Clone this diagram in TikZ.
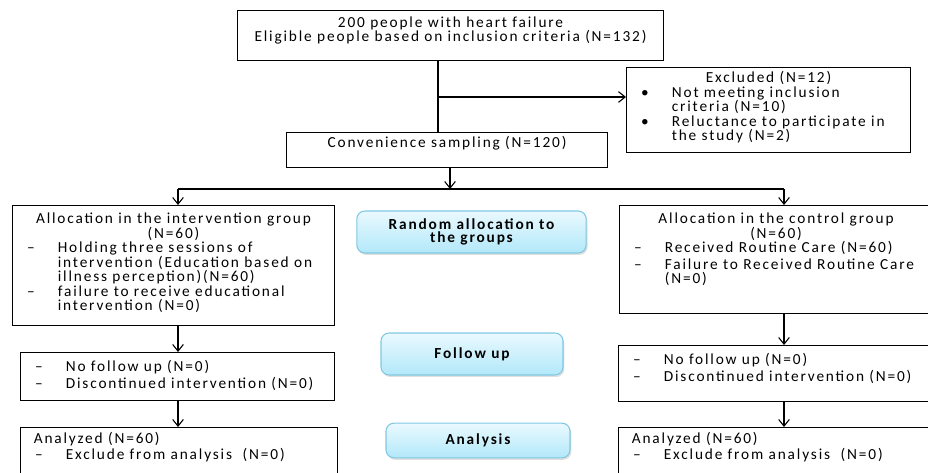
\documentclass[tikz,border=0pt]{standalone}
\usepackage{fontspec}
\setmainfont{Carlito}[LetterSpace=12]
\usetikzlibrary{arrows.meta,positioning,calc,shadows}
\definecolor{stagetop}{RGB}{234,249,254}
\definecolor{stagebottom}{RGB}{178,232,250}
\definecolor{stageline}{RGB}{128,200,226}

% box text: width (px), height (px), top pad, content
\newcommand{\boxtext}[4]{\parbox[c][\dimexpr #2pt*3/4\relax][t]{\dimexpr #1pt*3/4\relax}{\vspace*{#3}#4}}
\newcommand{\dashitem}[2][--]{\par\hangindent=34pt\hangafter=1\noindent\makebox[34pt][l]{\hspace*{11pt}#1}#2}

\begin{document}
\begin{tikzpicture}[x=0.75pt, y=-0.75pt,
    flowbox/.style={draw, line width=0.8pt, anchor=north west, inner sep=0pt,
      font=\fontsize{11.5}{10.9}\selectfont},
    widebox/.style={flowbox, font=\fontsize{11.5}{12.4}\selectfont},
    stagebox/.style={draw=stageline, line width=0.8pt, rounded corners=6pt,
      top color=stagetop, bottom color=stagebottom, align=center,
      font=\bfseries\fontsize{11.5}{10}\selectfont,
      drop shadow={opacity=0.25, shadow xshift=1pt, shadow yshift=-1.5pt}},
    flowline/.style={line width=0.8pt},
    flowarrow/.style={line width=0.8pt, -{Straight Barb[length=5pt,width=8pt]}}]
  \clip (0,0) rectangle (928,473);

  % screening and exclusion
  \node[flowbox] (screen) at (237,10) {\boxtext{426}{50}{4.5pt}{\centering
    200 people with heart failure\\
    Eligible people based on inclusion criteria (N=132)}};
  \node[flowbox] (excl) at (626,67) {\boxtext{284}{85}{3pt}{\centering
    Excluded (N=12)\par\raggedright
    \dashitem[\textbullet]{Not meeting inclusion\newline criteria (N=10)}
    \dashitem[\textbullet]{Reluctance to participate in\newline the study (N=2)}}};
  \node[flowbox] (conv) at (286,132) {\boxtext{321}{35}{2.5pt}{\centering
    Convenience sampling (N=120)}};

  % groups
  \node[flowbox] (allocint) at (12,205) {\boxtext{322}{120}{5.5pt}{\centering
    Allocation in the intervention group\\(N=60)\par\raggedright
    \dashitem{Holding three sessions of\newline intervention (Education based on\newline illness perception)(N=60)}
    \dashitem{failure to receive educational\newline intervention (N=0)}}};
  \node[flowbox] (allocctl) at (619,205) {\boxtext{313}{108}{5.5pt}{\centering
    Allocation in the control group\\(N=60)\par\raggedright
    \dashitem{Received Routine Care (N=60)}\par\vspace{1.5pt}
    \dashitem{Failure to Received Routine Care\newline (N=0)}}};

  \node[widebox] (followint) at (20,352) {\boxtext{314}{48}{6pt}{\raggedright
    \dashitem{No follow up (N=0)}
    \dashitem{Discontinued intervention (N=0)}}};
  \node[widebox] (followctl) at (618,345) {\boxtext{320}{56}{6pt}{\raggedright
    \dashitem{No follow up (N=0)}
    \dashitem{Discontinued intervention (N=0)}}};

  \node[widebox] (analint) at (20,427) {\boxtext{317}{70}{3.5pt}{\raggedright
    \hspace*{10pt}Analyzed (N=60)
    \dashitem{Exclude from analysis\ \ (N=0)}}};
  \node[widebox] (analctl) at (618,427) {\boxtext{320}{70}{3.5pt}{\raggedright
    \hspace*{10pt}Analyzed (N=60)
    \dashitem{Exclude from analysis\ \ (N=0)}}};

  % stages
  \node[stagebox, minimum width=172pt, minimum height=31.5pt] (stagerand) at (471.5,232) {Random allocation to\\the groups};
  \node[stagebox, minimum width=136.5pt, minimum height=31.5pt] (stagefollow) at (472,354) {Follow up};
  \node[stagebox, minimum width=138pt, minimum height=26pt] (stageanal) at (478,440.5) {Analysis};

  % connectors
  \coordinate (excljoin) at (438,97);
  \coordinate (splitm) at (450,189);
  \coordinate (splitl) at (178,189);
  \coordinate (splitr) at (784,189);
  \draw[flowline] (screen.south -| excljoin) -- (conv.north -| excljoin);
  \draw[flowarrow] (excljoin) -- (excljoin -| excl.west);
  \draw[flowarrow] (conv.south -| splitm) -- (splitm);
  \draw[flowline] (splitl) -- (splitr);
  \draw[flowarrow] (splitl) -- (splitl |- allocint.north);
  \draw[flowarrow] (splitr) -- (splitr |- allocctl.north);
  \draw[flowarrow] (allocint.south -| splitl) -- (followint.north -| splitl);
  \draw[flowarrow] (followint.south -| splitl) -- (analint.north -| splitl);
  \draw[flowarrow] (allocctl.south -| splitr) -- (followctl.north -| splitr);
  \draw[flowarrow] (followctl.south -| splitr) -- (analctl.north -| splitr);
\end{tikzpicture}
\end{document}
